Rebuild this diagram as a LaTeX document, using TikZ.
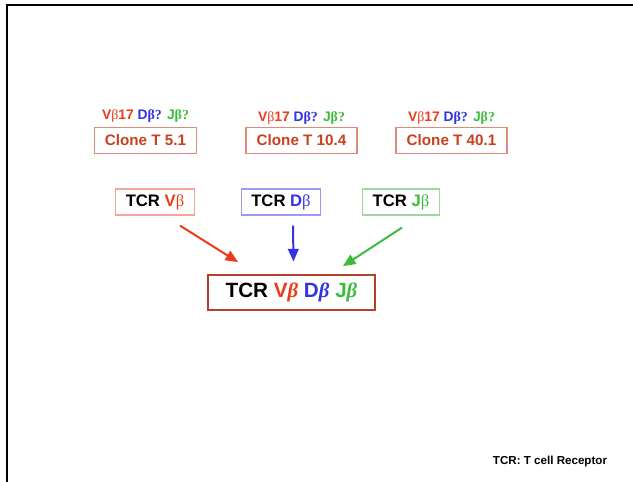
\documentclass[tikz,border=0pt]{standalone}
\usepackage{fontspec}
\setmainfont{Liberation Sans}
\newfontfamily\betafont{Liberation Serif}
\usetikzlibrary{arrows.meta}

\definecolor{vred}{HTML}{EE3A1C}
\definecolor{dblue}{HTML}{3333E6}
\definecolor{jgreen}{HTML}{3DBB3D}
\definecolor{cloneline}{HTML}{DD8C7A}
\definecolor{clonetext}{HTML}{C8401E}
\definecolor{vline}{HTML}{F2A696}
\definecolor{dline}{HTML}{9A9AEE}
\definecolor{jline}{HTML}{9ED69E}
\definecolor{allline}{HTML}{B2412A}

\newcommand{\betup}{{\betafont\mdseries β}}
\newcommand{\betq}{{\betafont β?}}
\newcommand{\betit}{{\betafont\itshape β}}

\begin{document}
\begin{tikzpicture}[x=0.75pt, y=-0.75pt, >={Triangle[length=9.5pt,width=8pt]},
	clonebox/.style={draw=cloneline, line width=0.9pt, text=clonetext, inner xsep=8pt, minimum height=19pt, font=\fontsize{11.4}{13}\selectfont\bfseries},
	genelabel/.style={inner sep=0pt, font=\fontsize{10.4}{12}\selectfont\bfseries},
	tcrbox/.style={line width=0.9pt, inner xsep=7.5pt, minimum height=19.5pt, font=\fontsize{12.5}{14}\selectfont\bfseries},
	linkarrow/.style={->, line width=1.5pt}]
	\useasboundingbox (0,0) rectangle (633,482);
	% frame
	\draw[line width=1.6pt] (7,482) -- (7,5) -- (633,5);
	
	\node (clone1) [clonebox] at (145.5,140.5) {Clone T 5.1};
	\node (clone2) [right of=clone1, clonebox, node distance=117pt] {Clone T 10.4};
	\node (clone3) [right of=clone2, clonebox, node distance=112.5pt] {Clone T 40.1};
	
	\node (gene1) [above of=clone1, genelabel, node distance=18pt] {\textcolor{vred}{V\betup17} \textcolor{dblue}{D\betq} \textcolor{jgreen}{J\betq}};
	\node (gene2) [above of=clone2, genelabel, node distance=16.5pt] {\textcolor{vred}{V\betup17} \textcolor{dblue}{D\betq} \textcolor{jgreen}{J\betq}};
	\node (gene3) [above of=clone3, genelabel, node distance=16.5pt] {\textcolor{vred}{V\betup17} \textcolor{dblue}{D\betq} \textcolor{jgreen}{J\betq}};
	
	\node (tcrv) [tcrbox, draw=vline] at (155,202) {TCR \textcolor{vred}{V\betup}};
	\node (tcrd) [right of=tcrv, tcrbox, draw=dline, node distance=94.5pt] {TCR \textcolor{dblue}{D\betup}};
	\node (tcrj) [right of=tcrd, tcrbox, draw=jline, node distance=90pt] {TCR \textcolor{jgreen}{J\betup}};
	
	\node (tcrall) [draw=allline, line width=1.5pt, inner xsep=13pt, minimum height=26pt, font=\fontsize{15.5}{18}\selectfont\bfseries] at (291.5,292.5) {TCR \textcolor{vred}{V\betit} \textcolor{dblue}{D\betit} \textcolor{jgreen}{J\betit}};
	
	\draw[linkarrow, vred] ([xshift=18.75pt, yshift=-7.5pt]tcrv.south) -- ([xshift=-40pt, yshift=9pt]tcrall.north);
	\draw[linkarrow, dblue] ([xshift=9pt, yshift=-7.5pt]tcrd.south) -- ([xshift=1.5pt, yshift=9.5pt]tcrall.north);
	\draw[linkarrow, jgreen] ([xshift=0.75pt, yshift=-9pt]tcrj.south) -- ([xshift=38.5pt, yshift=6pt]tcrall.north);
	
	\node (note) [font=\fontsize{8.7}{10}\selectfont\bfseries] at (550,461) {TCR: T cell Receptor};
\end{tikzpicture}
\end{document}
